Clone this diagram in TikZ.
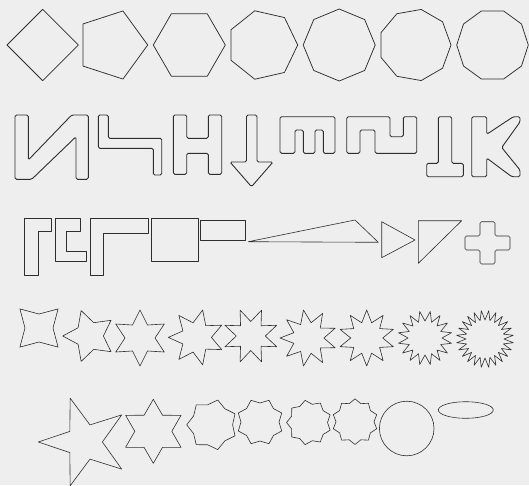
\documentclass[tikz,border=0pt]{standalone}
\usepackage{tikz}
\definecolor{ink}{HTML}{2E2E2E}
\definecolor{paper}{HTML}{EEEEEE}

\begin{document}
\begin{tikzpicture}[x=1pt,y=-1pt,
    shp/.style={draw=ink,line width=0.6pt,line join=round},
    blk/.style={draw=ink,line width=0.9pt,rounded corners=1.5pt}]
  \useasboundingbox (0,0) rectangle (529,485);
  \fill[paper] (0,0) rectangle (529,485);

  % regular polygons, 4 to 10 sides
  \foreach \n/\cx/\r in {4/42.7/35.7,5/111.9/35.8,6/189.3/36,7/262.6/35.1,8/339.2/36,9/414.9/36.1,10/492.5/35.8}
    \draw[shp,line width=0.75pt] (\cx,45) +(0:\r) \foreach \k in {2,...,\n} { -- +({(\k-1)*360/\n}:\r) } -- cycle;

  % block letters
  \draw[blk] (15,115) -- (28.3,115) -- (28.3,160) -- (71.7,115) -- (88.3,115) -- (88.3,179.3)
    -- (76,179.3) -- (76,136.7) -- (31.7,179.3) -- (15,179.3) -- cycle;
  \draw[blk] (98.3,115) -- (108.3,115) -- (108.3,138.3) -- (161.7,138.3) -- (161.7,175)
    -- (153.3,175) -- (153.3,148.3) -- (98.3,148.3) -- cycle;
  \draw[blk] (173.3,115) -- (186.7,115) -- (186.7,138.3) -- (208.3,138.3) -- (208.3,115) -- (221.7,115)
    -- (221.7,174.3) -- (208.3,174.3) -- (208.3,153.3) -- (186.7,153.3) -- (186.7,174.3) -- (173.3,174.3) -- cycle;
  \draw[blk] (246.5,115) -- (257,115) -- (257,162) -- (273,162) -- (251.5,186.7) -- (230,162)
    -- (246.5,162) -- cycle;
  \draw[blk] (280,116.7) -- (335,116.7) -- (335,153.3) -- (323.3,153.3) -- (323.3,130) -- (315,130)
    -- (315,153.3) -- (303.3,153.3) -- (303.3,130) -- (295,130) -- (295,153.3) -- (280,153.3) -- cycle;
  \draw[blk] (346.7,116.7) -- (390,116.7) -- (390,136.7) -- (403.3,136.7) -- (403.3,116.7) -- (416.7,116.7)
    -- (416.7,153.3) -- (375,153.3) -- (375,130) -- (360,130) -- (360,153.3) -- (346.7,153.3) -- cycle;
  \draw[blk] (438.3,116.7) -- (451.7,116.7) -- (451.7,163.3) -- (463.3,163.3) -- (463.3,176.7)
    -- (426.7,176.7) -- (426.7,163.3) -- (438.3,163.3) -- cycle;
  \draw[blk] (471.7,116.7) -- (486.7,116.7) -- (486.7,134.3) -- (513.3,116.7) -- (520,116.7) -- (520,122)
    -- (501.7,147.5) -- (520,170) -- (520,176.7) -- (511.7,176.7) -- (486.7,158) -- (486.7,176.7)
    -- (471.7,176.7) -- cycle;

  % blocks and triangles
  \draw[shp] (24,218.3) -- (51.7,218.3) -- (51.7,231.7) -- (38.3,231.7) -- (38.3,275) -- (24,275) -- cycle;
  \draw[shp] (55,218.3) -- (80,218.3) -- (80,231.7) -- (66.7,231.7) -- (66.7,251.7) -- (86.7,251.7)
    -- (86.7,261.7) -- (55,261.7) -- cycle;
  \draw[shp] (90,218.3) -- (148.3,218.3) -- (148.3,233.3) -- (103.3,233.3) -- (103.3,275) -- (90,275) -- cycle;
  \draw[shp] (151.7,218.3) rectangle (198.3,261.7);
  \draw[shp] (200,220) rectangle (245,240.7);
  \draw[shp] (248.3,241.7) -- (355,220) -- (378.3,242.3) -- cycle;
  \draw[shp] (381.7,221.7) -- (415,240) -- (381.7,257.7) -- cycle;
  \draw[shp] (418.3,220.7) -- (461.7,220.7) -- (418.3,263.3) -- cycle;
  \draw[shp,rounded corners=1.5pt] (480,221.7) -- (495,221.7) -- (495,236) -- (510,236) -- (510,250)
    -- (495,250) -- (495,264) -- (480,264) -- (480,250) -- (465,250) -- (465,236) -- (480,236) -- cycle;

  % stars, points n / centre / outer and inner radius
  \foreach \n/\cx/\cy/\ro/\ri in {4/39/328/27/14,5/89.4/336/26.7/14,6/140/338/28/15,7/196.4/337.4/28.1/15,
      8/250.8/336/28/14.5,9/308.4/338/28.4/15.5,10/366.7/338/28/16,16/425/338/27/17,24/485/339/28.5/19,
      5/84.4/442/46.1/18,6/153.3/431.3/32/18.5,7/212.1/424.8/25.4/20.5,8/260/422/23.5/19,
      9/309/422.5/22.5/18.5,10/355/421.7/22.8/19}
    \draw[shp] (\cx,\cy) +(0:\ri) \foreach \k in {1,...,\n} { -- +({(2*\k-1)*180/\n}:\ro) -- +({\k*360/\n}:\ri) } -- cycle;

  % circle and ellipse
  \draw[shp] (406.7,428.5) circle (27.3);
  \draw[shp] (465.8,410) ellipse (27.5 and 8.3);
\end{tikzpicture}
\end{document}
